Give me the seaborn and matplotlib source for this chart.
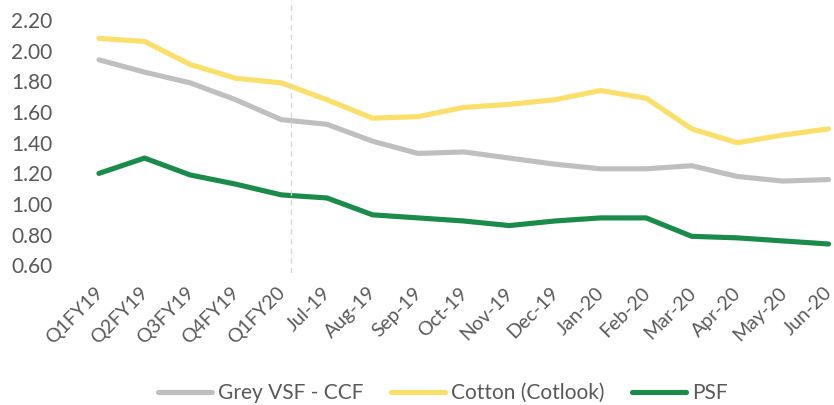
import pandas as pd
import matplotlib.pyplot as plt
import matplotlib.transforms as mtransforms
import seaborn as sns

# Data
periods = ["Q1FY19", "Q2FY19", "Q3FY19", "Q4FY19", "Q1FY20", "Jul-19", "Aug-19",
           "Sep-19", "Oct-19", "Nov-19", "Dec-19", "Jan-20", "Feb-20", "Mar-20",
           "Apr-20", "May-20", "Jun-20"]
grey_vsf = [1.94, 1.86, 1.79, 1.68, 1.55, 1.52, 1.41, 1.33, 1.34, 1.30, 1.26,
            1.23, 1.23, 1.25, 1.18, 1.15, 1.16]
cotton = [2.08, 2.06, 1.91, 1.82, 1.79, 1.68, 1.56, 1.57, 1.63, 1.65, 1.68,
          1.74, 1.69, 1.49, 1.40, 1.45, 1.49]
psf = [1.20, 1.30, 1.19, 1.13, 1.06, 1.04, 0.93, 0.91, 0.89, 0.86, 0.89,
       0.91, 0.91, 0.79, 0.78, 0.76, 0.74]
series_names = ["Grey VSF - CCF", "Cotton (Cotlook)", "PSF"]
y_ticks = [0.6, 0.8, 1.0, 1.2, 1.4, 1.6, 1.8, 2.0, 2.2]

df = pd.DataFrame({"Period": periods * 3,
                   "Series": [series_names[0]] * 17 + [series_names[1]] * 17 + [series_names[2]] * 17,
                   "Value": grey_vsf + cotton + psf})

sns.set_style("white")
plt.rcParams["font.family"] = ["Lato", "DejaVu Sans"]
text_col = "#595959"

fig = plt.figure(figsize=(8.34, 4.05), dpi=100)
ax = fig.add_axes([62 / 834, 1 - 273 / 405, 772 / 834, 273 / 405])

palette = {"Grey VSF - CCF": "#BFBFBF", "Cotton (Cotlook)": "#FADF6A", "PSF": "#1A8B4B"}
sns.lineplot(data=df, x="Period", y="Value", hue="Series", palette=palette,
             sort=False, linewidth=3.7, ax=ax, legend=True)

# divider between quarterly and monthly data
ax.axvline(4.22, color="#D9D9D9", linestyle=(0, (4, 3)), linewidth=1)

ax.set_xlim(-0.81, 16.12)
ax.set_ylim(0.551, 2.33)
ax.set_yticks(y_ticks)
ax.set_yticklabels([f"{v:.2f}" for v in y_ticks])
ax.set_xlabel("")
ax.set_ylabel("")
for s in ax.spines.values():
    s.set_visible(False)
ax.tick_params(axis="y", length=0, pad=7, labelsize=15, labelcolor=text_col)
ax.tick_params(axis="x", length=0, pad=8, labelsize=14, labelcolor=text_col)
shift = mtransforms.ScaledTranslation(-5 / 100, 0, fig.dpi_scale_trans)
for lbl in ax.get_xticklabels():
    lbl.set_rotation(45)
    lbl.set_ha("right")
    lbl.set_rotation_mode("anchor")
    lbl.set_transform(lbl.get_transform() + shift)

handles, labels = ax.get_legend_handles_labels()
ax.legend_.remove()
fig.legend(handles, labels, loc="center", bbox_to_anchor=(443 / 834, 1 - 393 / 405),
           ncol=3, frameon=False, fontsize=15, handlelength=2.6, handletextpad=0.3,
           columnspacing=1.3, labelcolor=text_col)

plt.savefig("out.png", dpi=100)
plt.close()
